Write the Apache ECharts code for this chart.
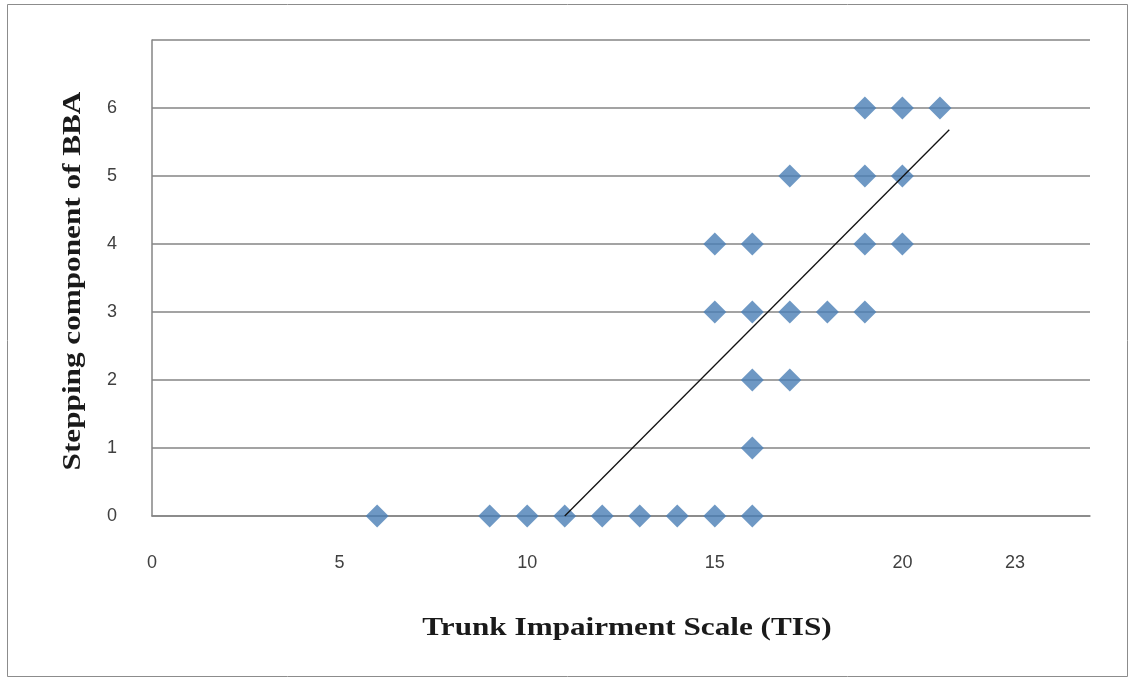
<!DOCTYPE html>
<html>
<head>
<meta charset="utf-8">
<script src="https://cdn.jsdelivr.net/npm/echarts@6/dist/echarts.min.js"></script>
<style>
  html, body { margin: 0; padding: 0; background: #fff; }
  #main { width: 1135px; height: 685px; }
</style>
</head>
<body>
<div id="main"></div>
<script>
var chart = echarts.init(document.getElementById('main'));

// TIS score (x) and stepping score (y) for each subject
var tisValues = [6, 9, 10, 11, 12, 13, 14, 15, 16,
                 16,
                 16, 17,
                 15, 16, 17, 18, 19,
                 15, 16, 19, 20,
                 17, 19, 20,
                 19, 20, 21];
var stepValues = [0, 0, 0, 0, 0, 0, 0, 0, 0,
                  1,
                  2, 2,
                  3, 3, 3, 3, 3,
                  4, 4, 4, 4,
                  5, 5, 5,
                  6, 6, 6];
// trend line ends
var trendX = [11, 21.25];
var trendY = [0, 5.68];
var xTickLabels = [0, 5, 10, 15, 20, 23];
var xTitle = 'Trunk Impairment Scale (TIS)';
var yTitle = 'Stepping component of BBA';

var points = tisValues.map(function (x, i) { return [x, stepValues[i]]; });
var trend = trendX.map(function (x, i) { return [x, trendY[i]]; });

var titleFont = { fontFamily: 'Liberation Serif', fontWeight: 'bold', fontSize: 26, fill: '#1a1a1a' };

var option = {
  animation: false,
  backgroundColor: '#fff',
  grid: { left: 152, right: 45, top: 40, bottom: 169 },
  graphic: [{
    type: 'rect',
    shape: { x: 7.5, y: 4.5, width: 1120, height: 672 },
    style: { fill: 'none', stroke: '#8c8c8c', lineWidth: 1 }
  }, {
    // x axis title, slightly stretched like the original
    type: 'text',
    x: 627, y: 628,
    scaleX: 1.2,
    style: Object.assign({ text: xTitle, align: 'center', verticalAlign: 'middle' }, titleFont)
  }, {
    // y axis title
    type: 'text',
    x: 73, y: 281,
    rotation: Math.PI / 2,
    scaleX: 1.2,
    style: Object.assign({ text: yTitle, align: 'center', verticalAlign: 'middle' }, titleFont)
  }],
  xAxis: {
    type: 'value',
    min: 0,
    max: 25,
    interval: 1,
    axisLine: { show: true, onZero: false, lineStyle: { color: '#858585', width: 1.5 } },
    axisTick: { show: false },
    splitLine: { show: false },
    axisLabel: {
      margin: 38,
      fontFamily: 'Liberation Sans',
      fontSize: 18,
      color: '#404040',
      showMaxLabel: false,
      formatter: function (v) { return xTickLabels.indexOf(v) >= 0 ? String(v) : ''; }
    }
  },
  yAxis: {
    type: 'value',
    min: 0,
    max: 7,
    interval: 1,
    axisLine: { show: true, lineStyle: { color: '#858585', width: 1.5 } },
    axisTick: { show: false },
    splitLine: { show: true, lineStyle: { color: '#858585', width: 1.5 } },
    axisLabel: {
      margin: 35,
      fontFamily: 'Liberation Sans',
      fontSize: 18,
      color: '#404040',
      showMaxLabel: false,
      formatter: function (v) { return v === 7 ? '' : String(v); }
    }
  },
  series: [{
    type: 'scatter',
    data: points,
    symbol: 'diamond',
    symbolSize: [23, 23],
    itemStyle: { color: '#4a7eb5' },
    z: 3
  }, {
    type: 'line',
    data: trend,
    symbol: 'none',
    lineStyle: { color: '#111', width: 1.3 },
    z: 4
  }]
};

chart.setOption(option);
</script>
</body>
</html>
